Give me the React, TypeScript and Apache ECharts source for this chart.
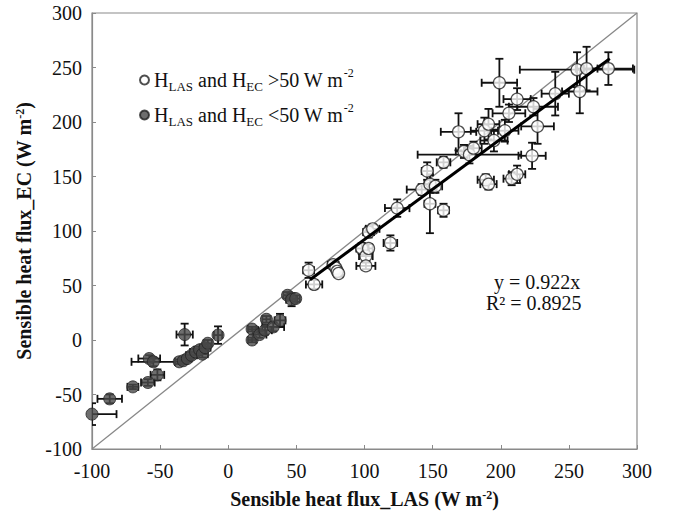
import React, { useEffect, useRef } from "react";
import * as echarts from "echarts";

// [x (LAS), y (EC), x error, y error]
const lowFlux: number[][] = [
  [-100, -68, 18, 10],
  [-87, -54, 9, 4],
  [-70, -43, 4, 2],
  [-59, -39, 5, 3],
  [-52, -32, 5, 5],
  [-58, -17, 8, 3],
  [-55, -20, 16, 4],
  [-36, -20, 3, 2],
  [-32, 5, 6, 10],
  [-33, -19, 3, 3],
  [-30, -17, 3, 3],
  [-27, -14, 4, 3],
  [-24, -11, 4, 3],
  [-21, -9, 4, 3],
  [-19, -13, 4, 3],
  [-17, -7, 4, 3],
  [-15, -3, 3, 3],
  [-7.5, 4.5, 3, 8],
  [17.5, 10, 3, 2],
  [17.5, 0, 3, 2],
  [23, 5, 5, 3],
  [28, 19, 3, 3],
  [27, 9, 5, 4],
  [33, 12, 8, 4],
  [38, 18, 4, 6],
  [43.5, 41, 3, 3],
  [46.5, 37, 4, 6],
  [49.5, 38, 3, 3],
];

const highFlux: number[][] = [
  [59, 64, 4, 7],
  [63, 51, 6, 4],
  [77, 69, 4, 4],
  [79, 66, 3, 3],
  [80, 63, 3, 3],
  [81, 61, 3, 3],
  [98, 84, 4, 5],
  [101, 77, 5, 5],
  [101, 68, 7, 3],
  [103, 84, 3, 4],
  [103, 99, 4, 5],
  [106, 102, 5, 4],
  [119, 89, 5, 7],
  [124, 121, 9, 8],
  [142, 138, 11, 5],
  [146, 155, 4, 8],
  [148, 143, 4, 8],
  [148, 125, 4, 27],
  [152, 141, 5, 6],
  [158, 119, 4, 6],
  [158, 163, 5, 5],
  [169, 191, 13, 17],
  [173, 173, 6, 6],
  [177, 170, 38, 8],
  [180, 176, 6, 6],
  [188, 192, 10, 12],
  [189, 147, 6, 5],
  [191, 143, 6, 5],
  [191, 198, 8, 14],
  [195, 183, 10, 10],
  [199, 236, 13, 22],
  [203, 192, 10, 10],
  [206, 208, 12, 8],
  [208, 148, 6, 6],
  [212, 152, 6, 8],
  [212, 221, 10, 10],
  [223, 169, 10, 12],
  [224, 214, 18, 8],
  [227, 196, 12, 16],
  [240, 226, 10, 20],
  [256, 248, 42, 16],
  [258, 228, 13, 20],
  [263, 249, 8, 20],
  [279, 249, 18, 15],
];

const oneToOne: number[][] = [
  [-100, -100],
  [300, 300],
];
const slope = 0.922;
const fitRange: number[] = [60, 280];
const fitLine: number[][] = fitRange.map((x) => [x, +(slope * x).toFixed(2)]);

const axisMin = -100;
const axisMax = 300;
const axisStep = 50;

const HIGH_NAME = "H_LAS and H_EC >50 W m-2";
const LOW_NAME = "H_LAS and H_EC <50 W m-2";

const FONT = "'Liberation Serif', 'Times New Roman', serif";

function errorBarRender(params: any, api: any) {
  const x = api.value(0);
  const y = api.value(1);
  const ex = api.value(2);
  const ey = api.value(3);
  const l = api.coord([x - ex, y]);
  const r = api.coord([x + ex, y]);
  const t = api.coord([x, y + ey]);
  const b = api.coord([x, y - ey]);
  const cap = 4;
  const style = { stroke: "#111", lineWidth: 1.8 };
  return {
    type: "group",
    children: [
      { type: "line", shape: { x1: l[0], y1: l[1], x2: r[0], y2: r[1] }, style },
      { type: "line", shape: { x1: l[0], y1: l[1] - cap, x2: l[0], y2: l[1] + cap }, style },
      { type: "line", shape: { x1: r[0], y1: r[1] - cap, x2: r[0], y2: r[1] + cap }, style },
      { type: "line", shape: { x1: t[0], y1: t[1], x2: b[0], y2: b[1] }, style },
      { type: "line", shape: { x1: t[0] - cap, y1: t[1], x2: t[0] + cap, y2: t[1] }, style },
      { type: "line", shape: { x1: b[0] - cap, y1: b[1], x2: b[0] + cap, y2: b[1] }, style },
    ],
  };
}

export default function App() {
  const ref = useRef<HTMLDivElement>(null);
  useEffect(() => {
    document.body.style.margin = "0";
    if (!ref.current) return;
    const chart = echarts.init(ref.current, undefined, { renderer: "svg" });
    const rich = {
      n: { fontSize: 20, fontFamily: FONT, color: "#111", lineHeight: 26 },
      sub: { fontSize: 13, fontFamily: FONT, color: "#111", lineHeight: 26, verticalAlign: "bottom" as const },
      sup: { fontSize: 12, fontFamily: FONT, color: "#111", lineHeight: 26, verticalAlign: "top" as const },
    };
    const axisCommon = {
      type: "value" as const,
      min: axisMin,
      max: axisMax,
      interval: axisStep,
      splitLine: { show: false },
      axisLine: { show: true, onZero: false, lineStyle: { color: "#8a8a8a", width: 1.2 } },
      axisTick: { show: true, inside: true, length: 4, lineStyle: { color: "#8a8a8a" } },
      nameLocation: "middle" as const,
    };
    const nameStyle = {
      fontFamily: FONT,
      fontWeight: "bold" as const,
      fontSize: 20,
      color: "#111",
      rich: { sup: { fontSize: 12, fontWeight: "bold" as const, fontFamily: FONT, verticalAlign: "top" as const, color: "#111" } },
    };
    chart.setOption({
      animation: false,
      backgroundColor: "#fff",
      grid: {
        left: 92,
        top: 13,
        width: 545,
        height: 436,
        show: true,
        borderColor: "#8a8a8a",
        borderWidth: 1.2,
        containLabel: false,
      },
      legend: {
        orient: "vertical",
        left: 134,
        top: 62,
        itemWidth: 9,
        itemHeight: 9,
        itemGap: 9,
        data: [HIGH_NAME, LOW_NAME],
        formatter: (name: string) =>
          name === HIGH_NAME
            ? "{n|H}{sub|LAS}{n| and H}{sub|EC}{n| >50 W m}{sup|-2}"
            : "{n|H}{sub|LAS}{n| and H}{sub|EC}{n| <50 W m}{sup|-2}",
        textStyle: { fontFamily: FONT, fontSize: 20, color: "#111", rich },
      },
      xAxis: {
        ...axisCommon,
        name: "Sensible heat flux_LAS (W m{sup|-2})",
        nameGap: 40,
        nameTextStyle: nameStyle,
        axisLabel: { fontFamily: FONT, fontSize: 20, color: "#111", margin: 12 },
      },
      yAxis: {
        ...axisCommon,
        name: "Sensible heat flux_EC (W m{sup|-2})",
        nameGap: 50,
        nameTextStyle: nameStyle,
        axisLabel: { fontFamily: FONT, fontSize: 20, color: "#111", margin: 10 },
      },
      graphic: [
        {
          type: "text",
          left: 494,
          top: 272,
          style: { text: "y = 0.922x", fontFamily: FONT, fontSize: 20, fill: "#111" },
        },
        {
          type: "text",
          left: 486,
          top: 293,
          style: { text: "R² = 0.8925", fontFamily: FONT, fontSize: 20, fill: "#111" },
        },
      ],
      series: [
        {
          type: "line",
          data: oneToOne,
          symbol: "none",
          silent: true,
          lineStyle: { color: "#888", width: 1.3 },
          z: 1,
        },
        {
          type: "custom",
          name: "errLow",
          data: lowFlux,
          renderItem: errorBarRender,
          encode: { x: 0, y: 1 },
          clip: true,
          z: 2,
        },
        {
          type: "custom",
          name: "errHigh",
          data: highFlux,
          renderItem: errorBarRender,
          encode: { x: 0, y: 1 },
          clip: true,
          z: 2,
        },
        {
          type: "scatter",
          name: LOW_NAME,
          data: lowFlux.map((d) => [d[0], d[1]]),
          symbol: "circle",
          symbolSize: 12,
          itemStyle: { color: "#4a4a4a", borderColor: "#222", borderWidth: 1 },
          z: 3,
        },
        {
          type: "scatter",
          name: HIGH_NAME,
          data: highFlux.map((d) => [d[0], d[1]]),
          symbol: "circle",
          symbolSize: 12,
          itemStyle: { color: "#fff", borderColor: "#222", borderWidth: 1.2 },
          z: 4,
        },
        {
          type: "line",
          data: fitLine,
          symbol: "none",
          silent: true,
          lineStyle: { color: "#000", width: 3 },
          z: 5,
        },
      ],
    });
    return () => chart.dispose();
  }, []);
  return <div ref={ref} style={{ width: 673, height: 515 }} />;
}
